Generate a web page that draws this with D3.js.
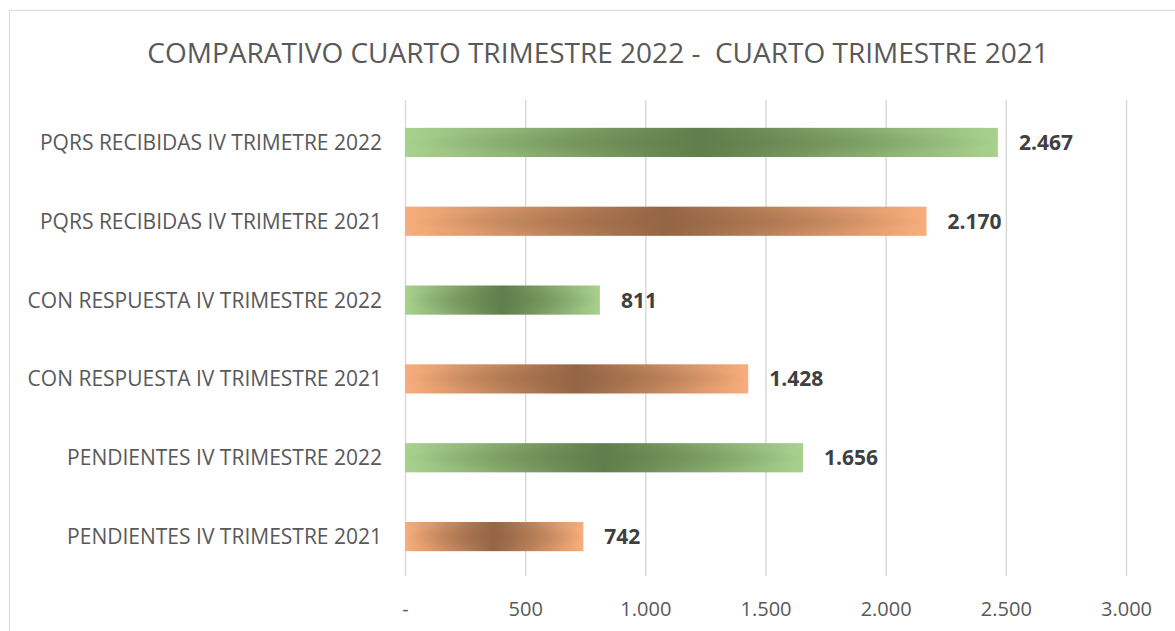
<!DOCTYPE html>
<html><head><meta charset="utf-8">
<script src="https://cdn.jsdelivr.net/npm/d3@7"></script>
<style>body{margin:0;background:#fff;}svg{display:block;font-family:"Open Sans",sans-serif;}</style>
</head><body>
<svg id="c" width="1175" height="631"></svg>
<script>
const categories = ["PQRS RECIBIDAS IV TRIMETRE 2022","PQRS RECIBIDAS IV TRIMETRE 2021","CON RESPUESTA IV TRIMESTRE 2022","CON RESPUESTA IV TRIMESTRE 2021","PENDIENTES IV TRIMESTRE 2022","PENDIENTES IV TRIMESTRE 2021"];
const values = [2467, 2170, 811, 1428, 1656, 742];
const years = ["2022","2021","2022","2021","2022","2021"];
const tickValues = [0,500,1000,1500,2000,2500,3000];
const tickLabels = ["-","500","1.000","1.500","2.000","2.500","3.000"];
const title = "COMPARATIVO CUARTO TRIMESTRE 2022 -  CUARTO TRIMESTRE 2021";

const svg = d3.select("#c");
const W = 1175, H = 631;
svg.append("rect").attr("x",9.5).attr("y",10.5).attr("width",W).attr("height",H).attr("fill","#fff").attr("stroke","#d9d9d9").attr("stroke-width",1);

const x = d3.scaleLinear().domain([0,3000]).range([405,1126]);
const y = d3.scaleBand().domain(categories).range([103,576]).paddingInner(0.63).paddingOuter(0.315);

const defs = svg.append("defs");
const pal = {"2022":["#a9d18e","#5f7e4b"],"2021":["#f8ae7c","#946544"]};
Object.entries(pal).forEach(([k,c])=>{
  const g = defs.append("linearGradient").attr("id","g"+k).attr("x1","0").attr("x2","1").attr("y1","0").attr("y2","0");
  g.append("stop").attr("offset","0").attr("stop-color",c[0]);
  g.append("stop").attr("offset","0.5").attr("stop-color",c[1]);
  g.append("stop").attr("offset","1").attr("stop-color",c[0]);
  const r = defs.append("radialGradient").attr("id","r"+k).attr("cx","0.5").attr("cy","0.5").attr("r","0.5");
  r.append("stop").attr("offset","0").attr("stop-color",c[1]).attr("stop-opacity",0.5);
  r.append("stop").attr("offset","1").attr("stop-color",c[1]).attr("stop-opacity",0);
});

// value labels (drawn under gridlines, as in the reference)
svg.append("g").selectAll("text").data(categories).join("text")
  .attr("x",(d,i)=>x(values[i])+21).attr("y",d=>y(d)+y.bandwidth()/2).attr("dy","0.36em")
  .attr("font-size",21).attr("font-weight","bold").attr("fill","#404040")
  .text((d,i)=>d3.format(",")(values[i]).replace(/,/g,"."));

// gridlines
svg.append("g").selectAll("line").data(tickValues).join("line")
  .attr("x1",d=>x(d)+0.5).attr("x2",d=>x(d)+0.5).attr("y1",100).attr("y2",576)
  .attr("stroke","#d9d9d9").attr("stroke-width",1.5);

// axis labels
const ax = svg.append("g").attr("transform","translate(0,576)")
  .call(d3.axisBottom(x).tickValues(tickValues).tickFormat((d,i)=>tickLabels[i]).tickSize(0).tickPadding(26));
ax.select(".domain").remove();
ax.selectAll("text").attr("font-size",20).attr("fill","#595959").attr("font-family","'Open Sans',sans-serif");

// bars
const bars = svg.append("g").selectAll("g").data(categories).join("g");
bars.append("rect").attr("x",x(0)).attr("y",d=>y(d)).attr("height",y.bandwidth())
  .attr("width",(d,i)=>x(values[i])-x(0)).attr("fill",(d,i)=>"url(#g"+years[i]+")");
bars.append("rect").attr("x",x(0)).attr("y",d=>y(d)).attr("height",y.bandwidth())
  .attr("width",(d,i)=>x(values[i])-x(0)).attr("fill",(d,i)=>"url(#r"+years[i]+")");

// category labels
svg.append("g").selectAll("text").data(categories).join("text")
  .attr("x",382).attr("y",d=>y(d)+y.bandwidth()/2).attr("dy","0.36em").attr("text-anchor","end")
  .attr("font-size",21).attr("fill","#595959").text(d=>d);

// title
svg.append("text").attr("x",598).attr("y",63).attr("text-anchor","middle")
  .attr("font-size",28).attr("fill","#595959").style("white-space","pre").attr("xml:space","preserve").text(title);
</script>
</body></html>
